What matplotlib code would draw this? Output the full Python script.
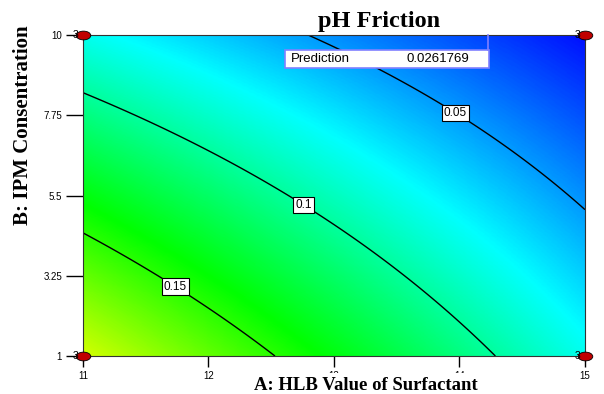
import matplotlib
matplotlib.use('Agg')
import matplotlib.pyplot as plt
import matplotlib.path as mpath
from matplotlib.colors import LinearSegmentedColormap
from matplotlib.transforms import Affine2D, ScaledTranslation, offset_copy
from matplotlib.patches import Rectangle
from matplotlib.lines import Line2D
import numpy as np

# points (A, B) and their level
line_A = [12.81, 13.02, 13.34, 13.98, 14.46, 14.85, 15.0,
          11.0, 11.80, 12.59, 13.0, 13.53, 14.06, 14.29,
          11.0, 11.40, 11.74, 12.12, 12.51]
line_B = [10.0, 9.63, 9.07, 7.90, 6.64, 5.56, 5.07,
          8.39, 7.08, 5.56, 4.64, 3.36, 1.78, 1.0,
          4.41, 3.74, 2.97, 2.06, 1.0]
line_val = [0.05] * 7 + [0.1] * 7 + [0.15] * 5

# flagged prediction
pred_A, pred_B, pred_val = 14.23, 10.0, 0.0261769

levels = [0.05, 0.1, 0.15]
level_fmt = {0.05: '0.05', 0.1: '0.1', 0.15: '0.15'}
label_pos = [(13.98, 7.9), (12.77, 5.29), (11.74, 2.97)]

x_ticks = [11, 12, 13, 14, 15]
y_ticks = [1, 3.25, 5.5, 7.75, 10]
y_tick_labels = ['1', '3.25', '5.5', '7.75', '10']

design_A = [11, 11, 15, 15]
design_B = [1, 10, 1, 10]
design_reps = [3, 3, 3, 3]

# quadratic response surface fitted to the read points (coded units)
def coded(A, B):
    a = (np.asarray(A) - 13) / 2
    b = (np.asarray(B) - 5.5) / 4.5
    return np.stack([np.ones_like(a), a, b, a * b, a * a, b * b], axis=-1)

X = coded(line_A + [pred_A], line_B + [pred_B])
y = np.array(line_val + [pred_val])
coef, *_ = np.linalg.lstsq(X, y, rcond=None)

ga = np.linspace(11, 15, 300)
gb = np.linspace(1, 10, 300)
GA, GB = np.meshgrid(ga, gb)
Z = coded(GA, GB) @ coef

cmap = LinearSegmentedColormap.from_list(
    'de', ['#0000ff', '#00ffff', '#00ff00', '#ffff00', '#ff0000'])

fig = plt.figure(figsize=(6.04, 3.94), dpi=100)
ax = fig.add_axes([0.1374, 0.0964, 0.8311, 0.8147])
ax.set_xlim(11, 15)
ax.set_ylim(1, 10)

ax.imshow(Z, extent=(11, 15, 1, 10), origin='lower', aspect='auto',
          cmap=cmap, vmin=0.01, vmax=0.27, interpolation='bilinear')
cs = ax.contour(GA, GB, Z, levels=levels, colors='black', linewidths=1)
labels = ax.clabel(cs, levels, inline=False, manual=label_pos,
                   fmt=level_fmt, fontsize=8.5)
for t in labels:
    t.set_rotation(0)
    t.set_family('Liberation Sans')
    t.set_bbox(dict(facecolor='white', edgecolor='black', pad=1.5, lw=0.8))

# design points
ell = mpath.Path.unit_circle().transformed(Affine2D().scale(1, 0.6))
ax.scatter(design_A, design_B, marker=ell, s=110, facecolor='#c00000',
           edgecolor='black', linewidth=0.6, clip_on=False, zorder=5)
for xa, yb, n in zip(design_A, design_B, design_reps):
    ax.annotate(str(n), (xa, yb), xytext=(-3.5, 0), textcoords='offset points',
                ha='right', va='center', fontsize=7.5, family='Liberation Sans',
                annotation_clip=False, zorder=6)

# prediction flag (sizes in pixels relative to the flagged point)
anchor = ScaledTranslation(pred_A, pred_B, ax.transData)
ax.add_patch(Rectangle((-203, -33), 204, 18,
                       transform=Affine2D() + anchor, facecolor='white',
                       edgecolor='#8080ff', lw=1.2, zorder=7, clip_on=False))
ax.add_line(Line2D([0, 0], [0, -15], transform=Affine2D() + anchor,
                   color='#8080ff', lw=1.2, zorder=7, clip_on=False))
ax.text(pred_A, pred_B, 'Prediction',
        transform=offset_copy(ax.transData, fig=fig, x=-197, y=-24, units='dots'),
        ha='left', va='center', fontsize=9.5, family='Liberation Sans',
        zorder=8, clip_on=False)
ax.text(pred_A, pred_B, f'{pred_val:.7f}',
        transform=offset_copy(ax.transData, fig=fig, x=-19, y=-24, units='dots'),
        ha='right', va='center', fontsize=9.5, family='Liberation Sans',
        zorder=8, clip_on=False)

ax.set_xticks(x_ticks)
ax.set_xticklabels([str(v) for v in x_ticks], family='Liberation Sans', fontsize=7)
ax.set_yticks(y_ticks)
ax.set_yticklabels(y_tick_labels, family='Liberation Sans', fontsize=7)
ax.tick_params(axis='x', length=8, width=1, pad=2.5)
ax.tick_params(axis='y', length=12, width=1, pad=3)
for s in ax.spines.values():
    s.set_color('#333333')

# the label's white box hides most of the 13 and 14 tick labels, as in the source
ax.set_xlabel('A: HLB Value of Surfactant', family='Liberation Serif',
              fontweight='bold', fontsize=13.5,
              bbox=dict(facecolor='white', edgecolor='none', pad=2.5))
ax.xaxis.label.set_va('baseline')
ax.xaxis.set_label_coords(0.564, -0.106)
ax.set_ylabel('B: IPM Consentration', family='Liberation Serif',
              fontweight='bold', fontsize=15)
ax.yaxis.set_label_coords(-0.1, 0.72)
fig.text(379 / 604, (394 - 27) / 394, 'pH Friction', family='Liberation Serif',
         fontweight='bold', fontsize=17.5, ha='center', va='baseline')

fig.savefig('out.png', dpi=100)
